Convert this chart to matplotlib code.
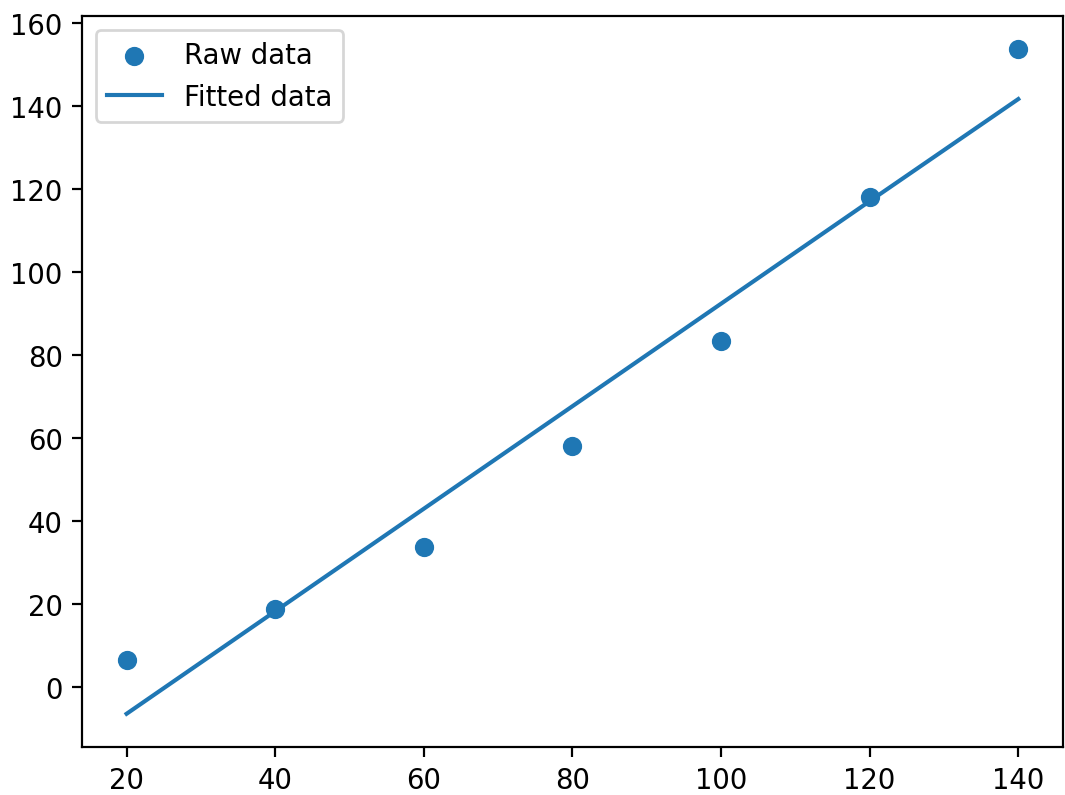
import numpy as np
import matplotlib.pyplot as plt

x_raw = [20, 40, 60, 80, 100, 120, 140]
y_raw = [6.5, 18.8, 33.7, 57.9, 83.2, 117.9, 153.6]

# fitted line values at the same x positions
y_fit = [-6.5, 18.2, 42.9, 67.6, 92.3, 117.0, 141.6]

fig = plt.figure(figsize=(1065 / 198, 796 / 198), dpi=198)

plt.scatter(x_raw, y_raw, label='Raw data')
plt.plot(x_raw, y_fit, label='Fitted data')

plt.legend(loc='upper left')
plt.subplots_adjust(left=0.077, right=0.998, top=0.9786, bottom=0.0603)
plt.savefig('out.png')
